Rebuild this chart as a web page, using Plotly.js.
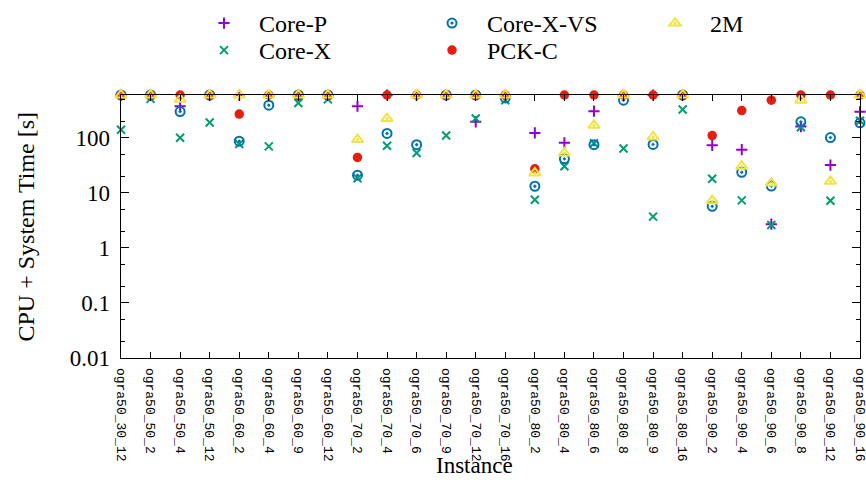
<!DOCTYPE html>
<html>
<head>
<meta charset="utf-8">
<script src="https://cdn.plot.ly/plotly-3.0.1.min.js"></script>
<style>html,body{margin:0;padding:0;background:#fff;}#chart{width:866px;height:485px;}</style>
</head>
<body>
<div id="chart"></div>
<script>
const instances = ["ogra50_30_12","ogra50_50_2","ogra50_50_4","ogra50_50_12","ogra50_60_2","ogra50_60_4","ogra50_60_9","ogra50_60_12","ogra50_70_2","ogra50_70_4","ogra50_70_6","ogra50_70_9","ogra50_70_12","ogra50_70_16","ogra50_80_2","ogra50_80_4","ogra50_80_6","ogra50_80_8","ogra50_80_9","ogra50_80_16","ogra50_90_2","ogra50_90_4","ogra50_90_6","ogra50_90_8","ogra50_90_12","ogra50_90_16"];
const corePValues   = [600,600,375,600,600,580,600,600,375,600,600,600,195,600,123,81,305,600,600,600,73,61,2.7,160,32,297];
const coreXValues   = [140,510,100,190,77,70,430,500,18.5,72,53,110,224,480,7.5,30.5,80,64,3.7,327,18,7.3,2.6,156,7.2,205];
const coreXVSValues = [600,600,300,600,87,392,600,600,21,120,75,600,600,530,13.2,41.5,75,483,76,600,5.7,23.7,13.3,195,101,187];
const pckCValues    = [600,600,600,600,270,600,600,600,44,600,600,600,600,600,27.3,600,600,600,600,600,110,313,483,600,600,600];
const twoMValues    = [600,600,500,600,600,600,600,600,93,224,600,600,600,600,23,53,169,600,104,600,7.2,30.5,15.1,483,16.2,600];
const yTickVals = [0.01,0.1,1,10,100];
const yTickText = ["0.01","0.1","1","10","100"];

const idx = instances.map((_, i) => i);
const serif = "Liberation Serif, DejaVu Serif, serif";

function tr(name, y, symbol, color, size, legend, lw) {
  return {
    type: "scatter", mode: "markers", name: name, x: idx, y: y,
    legend: legend, cliponaxis: false,
    marker: {symbol: symbol, color: color, size: size, line: {color: color, width: lw}}
  };
}

const data = [
  tr("Core-P", corePValues, "cross-thin", "#9400d3", 8, "legend", 2),
  tr("Core-X", coreXValues, "x-thin", "#009e73", 8, "legend2", 2),
  tr("Core-X-VS", coreXVSValues, "circle-open-dot", "#0072b2", 9, "legend3", 2),
  tr("PCK-C", pckCValues, "circle", "#e51e10", 9.5, "legend4", 0),
  tr("2M", twoMValues, "triangle-up-open-dot", "#f0e442", 10, "legend5", 2)
];

function leg(xpx, ytop) {
  return {
    orientation: "v", xref: "container", yref: "container", yanchor: "top", xanchor: "left",
    x: xpx / 866, y: 1 - ytop / 485,
    font: {family: serif, size: 24, color: "#000"}, bgcolor: "rgba(0,0,0,0)",
    itemwidth: 60
  };
}

const layout = {
  width: 866, height: 485,
  margin: {l: 121, r: 6, t: 95, b: 127, autoexpand: false},
  paper_bgcolor: "#fff", plot_bgcolor: "#fff",
  showlegend: true,
  legend: leg(189, 1),
  legend2: leg(189, 28),
  legend3: leg(417, 1),
  legend4: leg(417, 28),
  legend5: leg(640, 1),
  xaxis: {
    range: [0, 25], tickmode: "array", tickvals: idx, ticktext: instances,
    tickangle: 90, ticks: "inside", ticklen: 6, tickcolor: "#000",
    showline: true, linecolor: "#000", linewidth: 1.3, mirror: "ticks",
    showgrid: false, zeroline: false, ticklabeloverflow: "allow",
    tickfont: {family: "Liberation Mono, DejaVu Sans Mono, monospace", size: 13, color: "#000"},
    ticklabelstandoff: 6
  },
  yaxis: {
    type: "log", range: [-2, Math.log10(600)],
    tickmode: "array", tickvals: yTickVals, ticktext: yTickText,
    ticks: "inside", ticklen: 8, tickcolor: "#000",
    minor: {dtick: "D2", ticks: "inside", ticklen: 4, tickcolor: "#000", showgrid: false},
    showline: true, linecolor: "#000", linewidth: 1.3, mirror: "ticks",
    showgrid: false, zeroline: false,
    tickfont: {family: serif, size: 23, color: "#000"},
    ticklabelstandoff: 5
  },
  annotations: [
    {text: "Instance", xref: "paper", yref: "paper", x: 0.478, y: 1 - (465 - 95) / 263, xanchor: "center", yanchor: "middle",
     showarrow: false, font: {family: serif, size: 23, color: "#000"}},
    {text: "CPU + System Time [s]", xref: "paper", yref: "paper", x: (25 - 121) / 739, y: 0.5, textangle: -90,
     xanchor: "center", yanchor: "middle", showarrow: false, font: {family: serif, size: 24, color: "#000"}}
  ]
};

Plotly.newPlot("chart", data, layout, {displayModeBar: false, staticPlot: true});
</script>
</body>
</html>
